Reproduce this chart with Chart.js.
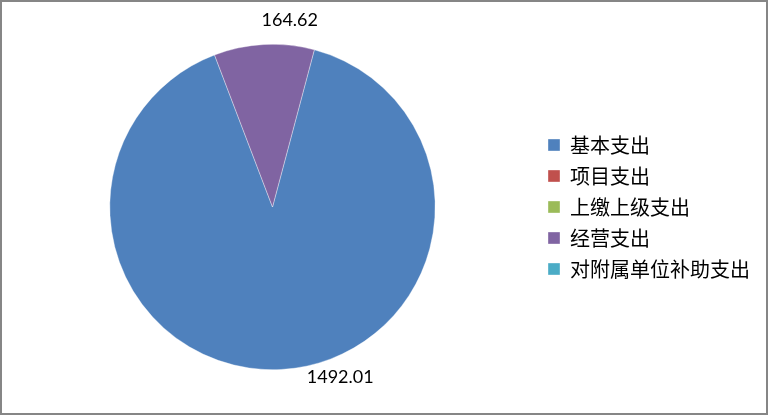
<!DOCTYPE html>
<html>
<head>
<meta charset="utf-8">
<script src="https://cdn.jsdelivr.net/npm/chart.js@4"></script>
<style>
  html, body { margin: 0; padding: 0; background: #fff; }
  #wrap { position: relative; width: 768px; height: 416px; }
  #frame { position: absolute; left: 0; top: 0; width: 768px; height: 415px; box-sizing: border-box; border: 2px solid #868686; pointer-events: none; }
  canvas { position: absolute; left: 0; top: 0; }
</style>
</head>
<body>
<div id="wrap">
  <canvas id="c" width="768" height="416"></canvas>
  <div id="frame"></div>
</div>
<script>
const categories = ['基本支出', '项目支出', '上缴上级支出', '经营支出', '对附属单位补助支出'];
const values = [1492.01, 0, 0, 164.62, 0];
const valueLabels = ['1492.01', '', '', '164.62', ''];
const colors = ['#4F81BD', '#C0504D', '#9BBB59', '#8064A2', '#4BACC6'];
const labelNudge = [[58, -16], [0, 0], [0, 0], [27, 0], [0, 0]];

const valueLabelPlugin = {
  id: 'valueLabels',
  afterDatasetsDraw(chart) {
    const ctx = chart.ctx;
    const meta = chart.getDatasetMeta(0);
    ctx.save();
    ctx.font = '18px Lato, "Liberation Sans", sans-serif';
    ctx.fillStyle = '#000';
    ctx.textAlign = 'center';
    ctx.textBaseline = 'middle';
    meta.data.forEach((arc, i) => {
      if (!values[i]) return;
      const p = arc.getProps(['x', 'y', 'startAngle', 'endAngle', 'outerRadius'], true);
      const mid = (p.startAngle + p.endAngle) / 2;
      const r = p.outerRadius + 24;
      const x = p.x + Math.cos(mid) * r + labelNudge[i][0];
      const y = p.y + Math.sin(mid) * r + labelNudge[i][1];
      ctx.fillText(valueLabels[i], x, y);
    });
    ctx.restore();
  }
};

new Chart(document.getElementById('c'), {
  type: 'pie',
  data: {
    labels: categories,
    datasets: [{
      data: values,
      backgroundColor: colors,
      borderColor: 'rgba(255,255,255,0.6)',
      borderWidth: 0.6
    }]
  },
  options: {
    responsive: false,
    animation: false,
    rotation: 14.9,
    layout: { padding: { left: 8, top: 44, bottom: 46, right: 8 } },
    plugins: {
      legend: {
        position: 'right',
        labels: {
          boxWidth: 12,
          boxHeight: 12,
          padding: 11,
          color: '#000',
          font: { size: 20, family: '"Noto Sans CJK SC", sans-serif' }
        }
      },
      tooltip: { enabled: false }
    }
  },
  plugins: [valueLabelPlugin]
});
</script>
</body>
</html>
